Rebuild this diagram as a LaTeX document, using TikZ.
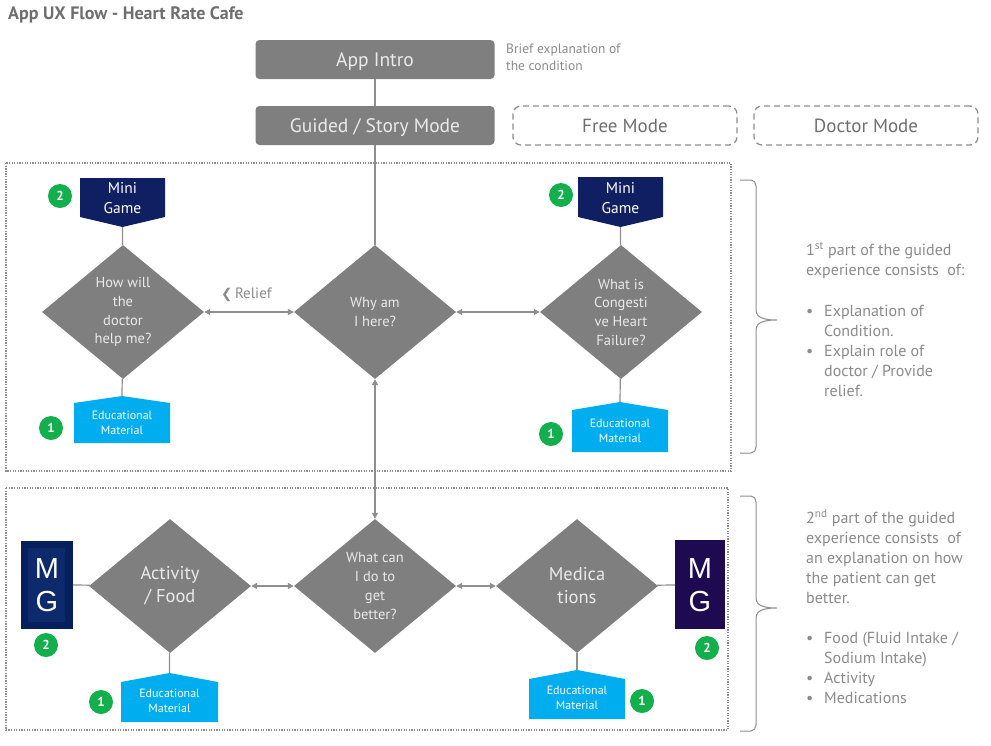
\documentclass[tikz,border=0pt]{standalone}
\usepackage{fontspec}
\setmainfont{PT Sans}
\newfontfamily\mgfont{Liberation Sans}
\newfontfamily\symfont{DejaVu Sans}
\usetikzlibrary{shapes.geometric}
\usetikzlibrary{arrows.meta}

\definecolor{boxgray}{HTML}{7F7F7F}
\definecolor{linegray}{HTML}{8E8E8E}
\definecolor{notegray}{HTML}{8A8A8A}
\definecolor{titlegray}{HTML}{6E6E6E}
\definecolor{lighttext}{HTML}{EAEAEA}
\definecolor{gamenavy}{HTML}{0F1F62}
\definecolor{mgblue}{HTML}{06205E}
\definecolor{mginner}{HTML}{0C2A6C}
\definecolor{mgpurple}{HTML}{1E0A50}
\definecolor{edublue}{HTML}{00ADEE}
\definecolor{badgegreen}{HTML}{13AF4C}

\tikzset{
  modebox/.style={fill=boxgray, rounded corners=4pt, minimum width=239pt, minimum height=39pt,
    text height=16pt, text depth=3pt, text=lighttext, font=\fontsize{19.5}{20}\selectfont},
  laterbox/.style={draw=linegray, dash pattern=on 6pt off 4pt, rounded corners=8pt, line width=1.3pt,
    minimum width=224pt, minimum height=39pt, text height=16.5pt, text depth=3pt,
    text=titlegray, font=\fontsize{19}{20}\selectfont},
  question/.style={diamond, fill=boxgray, inner sep=0pt, minimum width=162pt, minimum height=134pt,
    align=center, text=lighttext, font=\fontsize{14.5}{18.7}\selectfont},
  bigquestion/.style={question, font=\fontsize{18.5}{23}\selectfont},
  gametext/.style={align=center, text=white, font=\fontsize{15.5}{20}\selectfont},
  mgtext/.style={align=center, text=white, font=\mgfont\fontsize{29}{33}\selectfont},
  edutext/.style={align=center, text=white, font=\fontsize{12}{15}\selectfont},
  badge/.style={circle, fill=badgegreen, inner sep=0pt, minimum size=24pt, text=white,
    font=\bfseries\fontsize{13}{13}\selectfont},
  link/.style={draw=linegray, line width=1.2pt},
  twoway/.style={link, {Triangle[length=6pt,width=6pt]}-{Triangle[length=6pt,width=6pt]}},
  section/.style={draw=linegray, line width=1.5pt, dash pattern=on 1.3pt off 1.3pt},
  sidebrace/.style={draw=linegray, line width=1pt},
  note/.style={anchor=north west, inner sep=0pt, align=left, text=notegray,
    font=\fontsize{16}{20}\selectfont}
}

\begin{document}
\begin{tikzpicture}[x=1pt,y=-1pt]
\useasboundingbox (0,0) rectangle (991,745);

\node[anchor=west, inner sep=0pt, text=titlegray, font=\bfseries\fontsize{18}{18}\selectfont] (title) at (8,15) {App UX Flow - Heart Rate Cafe};

\node[modebox] (intro) at (375,59.5) {App Intro};
\node[anchor=north west, inner sep=0pt, align=left, text=notegray, font=\fontsize{13.5}{17}\selectfont] (introtxt) at (506,44) {Brief explanation of\\the condition};
\node[modebox] (guided) at (375,125.5) {Guided / Story Mode};
\node[laterbox] (free) at (625,125.5) {Free Mode};
\node[laterbox] (doctor) at (866,125.5) {Doctor Mode};
\draw[link] (intro) -- (guided);

\draw[section] (6,163) rectangle (731,471);
\draw[section] (6,488) rectangle (728,730);

\node[question] (doctorq) at (123,312) {How will\\the\\doctor\\help me?};
\node[question] (why) at (375,312) {Why am\\I here?};
\node[question] (chf) at (621,312) {What is\\Congesti\\ve Heart\\Failure?};

\node[bigquestion] (activity) at (170,586) {Activity\\/ Food};
\node[question] (better) at (375,586) {What can\\I do to\\get\\better?};
\node[bigquestion] (meds) at (577,586) {Medica\\tions};

\draw[link] (guided) -- (why);
\draw[twoway] (doctorq) -- (why);
\draw[twoway] (why) -- (chf);
\draw[twoway] (why) -- (better);
\draw[twoway] (activity) -- (better);
\draw[twoway] (better) -- (meds);
\node[anchor=west, inner sep=0pt, text=notegray, font=\fontsize{15}{15}\selectfont] (relief) at (221,295) {{\symfont\bfseries\fontsize{13.5}{13.5}\selectfont ❮}\,Relief};

\fill[gamenavy] (80,178) -- (165,178) -- (165,217) -- (122.5,227) -- (80,217) -- cycle;
\node[gametext] (game1) at (122.5,198) {Mini\\Game};
\coordinate (game1tip) at (122.5,227);
\fill[gamenavy] (578,177) -- (663,177) -- (663,217) -- (620.5,227) -- (578,217) -- cycle;
\node[gametext] (game2) at (620.5,198) {Mini\\Game};
\coordinate (game2tip) at (620.5,227);
\draw[link] (game1tip) -- (doctorq);
\draw[link] (game2tip) -- (chf);

\fill[edublue] (74,403) -- (122,396) -- (170,403) -- (170,443) -- (74,443) -- cycle;
\node[edutext] (edu1) at (122,423) {Educational\\Material};
\coordinate (edu1peak) at (122,396);
\fill[edublue] (572,410) -- (620,402) -- (668,410) -- (668,452) -- (572,452) -- cycle;
\node[edutext] (edu2) at (620,431) {Educational\\Material};
\coordinate (edu2peak) at (620,402);
\fill[edublue] (121,682) -- (169.5,673) -- (218,682) -- (218,722) -- (121,722) -- cycle;
\node[edutext] (edu3) at (169.5,701) {Educational\\Material};
\coordinate (edu3peak) at (169.5,673);
\fill[edublue] (529,679) -- (577,670) -- (625,679) -- (625,719) -- (529,719) -- cycle;
\node[edutext] (edu4) at (577,698) {Educational\\Material};
\coordinate (edu4peak) at (577,670);
\draw[link] (doctorq) -- (edu1peak);
\draw[link] (chf) -- (edu2peak);
\draw[link] (activity) -- (edu3peak);
\draw[link] (meds) -- (edu4peak);

\fill[mgblue] (21,541) rectangle (73,629);
\fill[mginner] (28,548) rectangle (65,622);
\node[mgtext] (mg1) at (47,585) {M\\G};
\fill[mgpurple] (675,540) rectangle (725,629);
\node[mgtext] (mg2) at (700,585) {M\\G};
\coordinate (mg1side) at (73,585);
\coordinate (mg2side) at (675,585);
\draw[link] (mg1side) -- (activity);
\draw[link] (meds) -- (mg2side);

\node[badge] (b1) at (60,196) {2};
\node[badge] (b2) at (561,195) {2};
\node[badge] (b3) at (51,428) {1};
\node[badge] (b4) at (551,434) {1};
\node[badge] (b5) at (46,645) {2};
\node[badge] (b6) at (707,648) {2};
\node[badge] (b7) at (101,702) {1};
\node[badge] (b8) at (642,701) {1};

\draw[sidebrace] (740,180) -- (751,180) to[out=0,in=90] (756,186) -- (756,310)
  to[out=-90,in=180] (777,320) to[out=180,in=90] (756,330) -- (756,447)
  to[out=-90,in=0] (751,453) -- (740,453);
\draw[sidebrace] (740,496) -- (751,496) to[out=0,in=90] (756,502) -- (756,598)
  to[out=-90,in=180] (777,608) to[out=180,in=90] (756,618) -- (756,725)
  to[out=-90,in=0] (751,731) -- (740,731);

\node[note] (note1) at (806,242) {1\textsuperscript{st} part of the guided\\experience consists\ \ of:\\[23pt]
\begin{tabular}{@{}p{18pt}@{}l@{}}
\textbullet & Explanation of\\
 & Condition.\\
\textbullet & Explain role of\\
 & doctor / Provide\\
 & relief.
\end{tabular}};

\node[note] (note2) at (806,509) {2\textsuperscript{nd} part of the guided\\experience consists\ \ of\\an explanation on how\\the patient can get\\better.\\[25pt]
\begin{tabular}{@{}p{18pt}@{}l@{}}
\textbullet & Food (Fluid Intake /\\
 & Sodium Intake)\\
\textbullet & Activity\\
\textbullet & Medications
\end{tabular}};
\end{tikzpicture}
\end{document}
